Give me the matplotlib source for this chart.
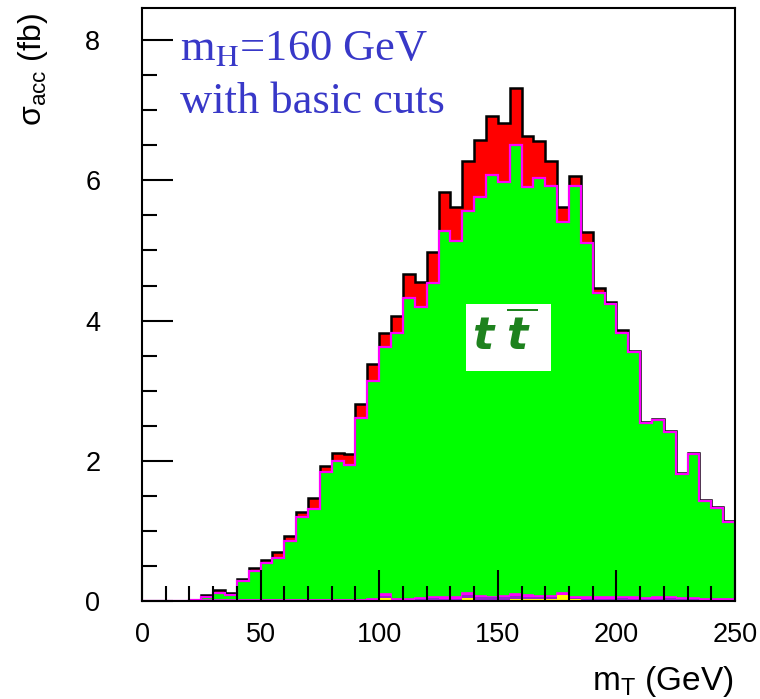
import numpy as np
import matplotlib
matplotlib.use('Agg')
import matplotlib.pyplot as plt
from matplotlib.ticker import MultipleLocator
from matplotlib.patches import Rectangle

plt.rcParams['mathtext.rm'] = 'Liberation Sans'
plt.rcParams['mathtext.it'] = 'DejaVu Sans:italic:bold'
plt.rcParams['mathtext.bf'] = 'DejaVu Sans:bold'

# m_T bin edges (GeV), 5 GeV bins from 0 to 250
mT_edges = np.arange(0, 251, 5)

# stacked histogram tops (fb)
# total (signal + all backgrounds), black outline / red fill
top_total = [0.00, 0.00, 0.00, 0.00, 0.01, 0.08, 0.15, 0.11, 0.31, 0.47,
             0.585, 0.70, 0.93, 1.265, 1.465, 1.92, 2.11, 2.09, 2.81, 3.38,
             3.82, 4.06, 4.66, 4.555, 4.98, 5.84, 5.62, 6.28, 6.58, 6.92,
             6.82, 7.32, 6.64, 6.56, 6.27, 5.62, 6.06, 5.26, 4.465, 4.265,
             3.86, 3.57, 2.55, 2.60, 2.43, 1.83, 2.11, 1.44, 1.34, 1.14]
# ttbar + small backgrounds, green fill / magenta outline
top_ttbar = [0.00, 0.00, 0.00, 0.00, 0.01, 0.05, 0.11, 0.08, 0.28, 0.43,
             0.54, 0.62, 0.86, 1.20, 1.31, 1.845, 2.00, 1.94, 2.615, 3.14,
             3.63, 3.83, 4.32, 4.20, 4.54, 5.28, 5.13, 5.57, 5.76, 6.08,
             5.98, 6.50, 5.91, 6.04, 5.92, 5.41, 5.92, 5.10, 4.40, 4.23,
             3.83, 3.555, 2.535, 2.585, 2.415, 1.815, 2.095, 1.425, 1.325, 1.125]
# small backgrounds near the axis
top_magenta = [0.00, 0.00, 0.00, 0.00, 0.01, 0.01, 0.02, 0.02, 0.02, 0.02,
               0.02, 0.02, 0.02, 0.02, 0.02, 0.02, 0.02, 0.02, 0.02, 0.03,
               0.10, 0.03, 0.03, 0.04, 0.06, 0.05, 0.05, 0.11, 0.07, 0.06,
               0.07, 0.095, 0.085, 0.07, 0.07, 0.12, 0.06, 0.05, 0.05, 0.05,
               0.06, 0.05, 0.04, 0.05, 0.06, 0.04, 0.04, 0.03, 0.03, 0.03]
top_purple = [0.00, 0.00, 0.00, 0.00, 0.005, 0.005, 0.01, 0.01, 0.01, 0.01,
              0.01, 0.01, 0.01, 0.01, 0.01, 0.01, 0.01, 0.01, 0.01, 0.015,
              0.07, 0.02, 0.02, 0.025, 0.045, 0.035, 0.035, 0.085, 0.05, 0.05,
              0.05, 0.075, 0.06, 0.05, 0.05, 0.09, 0.045, 0.035, 0.035, 0.035,
              0.04, 0.035, 0.025, 0.035, 0.04, 0.025, 0.025, 0.02, 0.02, 0.02]
top_yellow = [0.00, 0.00, 0.00, 0.00, 0.00, 0.00, 0.00, 0.00, 0.00, 0.00,
              0.00, 0.00, 0.00, 0.00, 0.00, 0.00, 0.00, 0.00, 0.00, 0.00,
              0.045, 0.00, 0.00, 0.00, 0.01, 0.00, 0.00, 0.045, 0.02, 0.01,
              0.01, 0.035, 0.035, 0.035, 0.035, 0.085, 0.03, 0.01, 0.01, 0.02,
              0.01, 0.00, 0.00, 0.01, 0.01, 0.00, 0.00, 0.00, 0.00, 0.00]

x_major = np.arange(0, 251, 50)
y_major = np.arange(0, 9, 2)

fig = plt.figure(figsize=(7.6, 6.99), dpi=100)
ax = fig.add_axes([142/760, 1 - 601/699, 593/760, 593/699])

ax.stairs(top_total, mT_edges, fill=True, color='#ff0000', zorder=1)
ax.stairs(top_total, mT_edges, color='black', lw=1.8, zorder=1.1)
ax.stairs(top_ttbar, mT_edges, fill=True, color='#00ff00', zorder=1.2)
ax.stairs(top_ttbar, mT_edges, color='#ff00ff', lw=1.6, zorder=1.3)
ax.stairs(top_magenta, mT_edges, fill=True, color='#ff00ff', zorder=1.4)
ax.stairs(top_magenta, mT_edges, color='#ff00ff', lw=1.2, zorder=1.45)
ax.stairs(top_purple, mT_edges, fill=True, color='#9a20d0', zorder=1.5)
ax.stairs(top_yellow, mT_edges, fill=True, color='#ffff00', zorder=1.6)

ax.set_xlim(0, 250)
ax.set_ylim(0, 593/70.1)
ax.set_xticks(x_major)
ax.set_yticks(y_major)
ax.xaxis.set_minor_locator(MultipleLocator(10))
ax.yaxis.set_minor_locator(MultipleLocator(0.5))
ax.set_axisbelow(False)
ax.tick_params(axis='both', which='both', direction='in', top=False, right=False,
               width=1.5, labelsize=19.5)
ax.tick_params(axis='both', which='major', length=22)
ax.tick_params(axis='both', which='minor', length=11)
ax.tick_params(axis='x', which='major', pad=15)
ax.tick_params(axis='y', which='major', pad=30)
for lab in ax.get_xticklabels() + ax.get_yticklabels():
    lab.set_fontfamily('Liberation Sans')
for sp in ax.spines.values():
    sp.set_linewidth(1.5)
    sp.set_zorder(3)

ax.text(0.997, -0.106, r'm$_\mathrm{T}$ (GeV)', transform=ax.transAxes,
        ha='right', va='top', fontsize=24, family='Liberation Sans',
        math_fontfamily='custom')
ax.text(-0.183, 0.992, r'σ$_\mathrm{acc}$ (fb)', transform=ax.transAxes,
        rotation=90, ha='center', va='top', fontsize=23,
        family='Liberation Sans', math_fontfamily='custom')

txt_color = '#3838c8'
ax.text(0.064, 0.912, r'm$_\mathrm{H}$=160 GeV', transform=ax.transAxes,
        ha='left', va='baseline', fontsize=32, color=txt_color,
        family='Liberation Serif', math_fontfamily='stix')
ax.text(0.064, 0.823, 'with basic cuts', transform=ax.transAxes,
        ha='left', va='baseline', fontsize=32, color=txt_color,
        family='Liberation Serif')

ax.add_patch(Rectangle((0.546, 0.388), 0.144, 0.113, transform=ax.transAxes,
                       facecolor='white', edgecolor='none', zorder=4))
ax.text(0.612, 0.447, r'$t\;\overline{t\,}$', transform=ax.transAxes, ha='center',
        va='center', fontsize=32, color='#1e821e', math_fontfamily='custom',
        zorder=5)

fig.savefig('out.png', dpi=100)
